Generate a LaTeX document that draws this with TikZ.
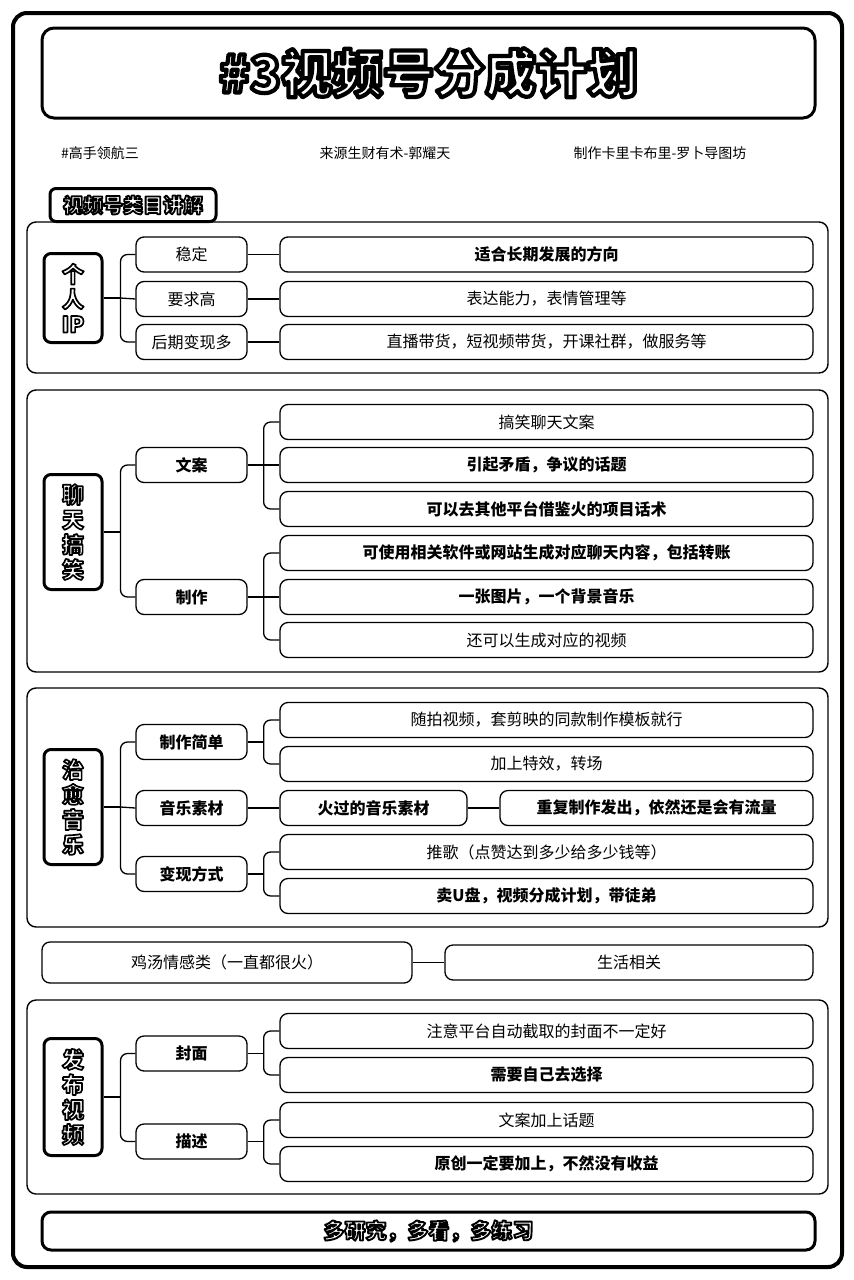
\documentclass[tikz,border=0pt]{standalone}
\usepackage{fontspec}
\setmainfont{Noto Sans CJK SC}
% outlined text: fill white, stroke black (text render mode 2)
\newcommand\outl[2][1.7]{\special{pdf:code q 2 Tr #1 w 1 j 0 G 1 g}#2\special{pdf:code Q}}
\tikzset{
  sect/.style={line width=1.4pt,rounded corners=9pt},
  midbox/.style={draw,line width=1.3pt,rounded corners=8pt,minimum width=111pt,minimum height=35pt,inner sep=0pt,font=\fontsize{16}{18}\selectfont},
  leafbox/.style={draw,line width=1.3pt,rounded corners=8pt,minimum width=533pt,minimum height=35pt,inner sep=0pt,font=\fontsize{16}{18}\selectfont},
  catbox/.style={draw,line width=3pt,rounded corners=7pt,minimum width=58pt,inner sep=0pt,align=center,font=\bfseries\fontsize{22}{25}\selectfont},
  link/.style={line width=1.3pt},
  hdr/.style={font=\fontsize{14}{16}\selectfont},
}

\begin{document}
\begin{tikzpicture}[x=1pt,y=-1pt]
\useasboundingbox (0,0) rectangle (854,1280);
%\draw[help lines] (0,0) grid[step=50] (854,1280);

\draw[line width=4pt,rounded corners=14pt] (13,13) rectangle (842,1267);

% title
\node[draw,line width=3pt,rounded corners=12pt,minimum width=773pt,minimum height=90pt] (title) at (428.5,73)
  {\bfseries\fontsize{51}{56}\selectfont\outl[4.2]{\#3视频号分成计划}};
\node[hdr] (src1) at (100,153) {\#高手领航三};
\node[hdr] (src2) at (385,153) {来源生财有术-郭耀天};
\node[hdr] (src3) at (660,153) {制作卡里卡布里-罗卜导图坊};

% section tab
\node[draw,line width=3pt,rounded corners=6pt,minimum width=166pt,minimum height=33pt,inner sep=0pt] (tab) at (133,205)
  {\bfseries\fontsize{20}{22}\selectfont\outl[1.8]{视频号类目讲解}};

%%% 个人IP
\draw[sect] (27,222) rectangle (828,373);
\node[catbox,minimum height=89pt] (ip) at (73,298) {\outl{个}\\\outl{人}\\\outl{IP}};
\node[midbox] (ipA) at (191.5,254.5) {稳定};
\node[midbox] (ipB) at (191.5,299) {要求高};
\node[midbox] (ipC) at (191.5,342) {后期变现多};
\node[leafbox,font=\bfseries\fontsize{16}{18}\selectfont] (ipA1) at (546.5,254.5) {适合长期发展的方向};
\node[leafbox] (ipB1) at (546.5,299) {表达能力，表情管理等};
\node[leafbox] (ipC1) at (546.5,342) {直播带货，短视频带货，开课社群，做服务等};
\draw[link] (ip.east) -- ++(17,0) coordinate (ipj);
\draw[link,rounded corners=7pt] (ipA.west) -| (ipj) |- (ipC.west);
\draw[link] (ipj) -- (ipB.west);
\draw[link] (ipA.east) -- (ipA1.west);
\draw[link] (ipB.east) -- (ipB1.west);
\draw[link] (ipC.east) -- (ipC1.west);

%%% 聊天搞笑
\draw[sect] (27,390) rectangle (828,672);
\node[catbox,minimum height=115pt] (lt) at (73,532) {\outl{聊}\\\outl{天}\\\outl{搞}\\\outl{笑}};
\node[midbox,font=\bfseries\fontsize{16}{18}\selectfont] (ltA) at (191.5,465) {文案};
\node[midbox,font=\bfseries\fontsize{16}{18}\selectfont] (ltB) at (191.5,597) {制作};
\node[leafbox] (ltA1) at (546.5,422) {搞笑聊天文案};
\node[leafbox,font=\bfseries\fontsize{16}{18}\selectfont] (ltA2) at (546.5,465) {引起矛盾，争议的话题};
\node[leafbox,font=\bfseries\fontsize{16}{18}\selectfont] (ltA3) at (546.5,509) {可以去其他平台借鉴火的项目话术};
\node[leafbox,font=\bfseries\fontsize{16}{18}\selectfont] (ltB1) at (546.5,553) {可使用相关软件或网站生成对应聊天内容，包括转账};
\node[leafbox,font=\bfseries\fontsize{16}{18}\selectfont] (ltB2) at (546.5,597) {一张图片，一个背景音乐};
\node[leafbox] (ltB3) at (546.5,640) {还可以生成对应的视频};
\draw[link] (lt.east) -- ++(17,0) coordinate (ltj);
\draw[link,rounded corners=7pt] (ltA.west) -| (ltj) |- (ltB.west);
\draw[link] (ltA.east) -- (ltA2.west);
\draw[link] (ltA.east) -- ++(16,0) coordinate (ltAj);
\draw[link,rounded corners=7pt] (ltA1.west) -| (ltAj) |- (ltA3.west);
\draw[link] (ltB.east) -- (ltB2.west);
\draw[link] (ltB.east) -- ++(16,0) coordinate (ltBj);
\draw[link,rounded corners=7pt] (ltB1.west) -| (ltBj) |- (ltB3.west);

%%% 治愈音乐
\draw[sect] (27,688) rectangle (828,927);
\node[catbox,minimum height=115pt] (zy) at (73,807) {\outl{治}\\\outl{愈}\\\outl{音}\\\outl{乐}};
\node[midbox,font=\bfseries\fontsize{16}{18}\selectfont] (zyA) at (191.5,742) {制作简单};
\node[midbox,font=\bfseries\fontsize{16}{18}\selectfont] (zyB) at (191.5,808) {音乐素材};
\node[midbox,font=\bfseries\fontsize{16}{18}\selectfont] (zyC) at (191.5,874) {变现方式};
\node[leafbox] (zyA1) at (546.5,720) {随拍视频，套剪映的同款制作模板就行};
\node[leafbox] (zyA2) at (546.5,764) {加上特效，转场};
\node[leafbox,minimum width=187pt,font=\bfseries\fontsize{16}{18}\selectfont] (zyB1) at (373.5,808) {火过的音乐素材};
\node[leafbox,minimum width=313pt,font=\bfseries\fontsize{16}{18}\selectfont] (zyB2) at (656.5,808) {重复制作发出，依然还是会有流量};
\node[leafbox] (zyC1) at (546.5,852) {推歌（点赞达到多少给多少钱等）};
\node[leafbox,font=\bfseries\fontsize{16}{18}\selectfont] (zyC2) at (546.5,896) {卖U盘，视频分成计划，带徒弟};
\draw[link] (zy.east) -- ++(17,0) coordinate (zyj);
\draw[link,rounded corners=7pt] (zyA.west) -| (zyj) |- (zyC.west);
\draw[link] (zyj) -- (zyB.west);
\draw[link] (zyA.east) -- ++(16,0) coordinate (zyAj);
\draw[link,rounded corners=7pt] (zyA1.west) -| (zyAj) |- (zyA2.west);
\draw[link] (zyB.east) -- (zyB1.west);
\draw[link] (zyB1.east) -- (zyB2.west);
\draw[link] (zyC.east) -- ++(16,0) coordinate (zyCj);
\draw[link,rounded corners=7pt] (zyC1.west) -| (zyCj) |- (zyC2.west);

%%% 鸡汤
\node[leafbox,minimum width=370pt,minimum height=41pt] (jt) at (227,962.5) {鸡汤情感类（一直都很火）};
\node[leafbox,minimum width=368pt] (sh) at (629,962.5) {生活相关};
\draw[link] (jt.east) -- (sh.west);

%%% 发布视频
\draw[sect] (27,1000) rectangle (828,1194);
\node[catbox,minimum height=117pt] (fb) at (73,1097) {\outl{发}\\\outl{布}\\\outl{视}\\\outl{频}};
\node[midbox,font=\bfseries\fontsize{16}{18}\selectfont] (fbA) at (191.5,1053.5) {封面};
\node[midbox,font=\bfseries\fontsize{16}{18}\selectfont] (fbB) at (191.5,1141.5) {描述};
\node[leafbox] (fbA1) at (546.5,1031) {注意平台自动截取的封面不一定好};
\node[leafbox,font=\bfseries\fontsize{16}{18}\selectfont] (fbA2) at (546.5,1075) {需要自己去选择};
\node[leafbox] (fbB1) at (546.5,1120) {文案加上话题};
\node[leafbox,font=\bfseries\fontsize{16}{18}\selectfont] (fbB2) at (546.5,1164) {原创一定要加上，不然没有收益};
\draw[link] (fb.east) -- ++(17,0) coordinate (fbj);
\draw[link,rounded corners=7pt] (fbA.west) -| (fbj) |- (fbB.west);
\draw[link] (fbA.east) -- ++(16,0) coordinate (fbAj);
\draw[link,rounded corners=7pt] (fbA1.west) -| (fbAj) |- (fbA2.west);
\draw[link] (fbB.east) -- ++(16,0) coordinate (fbBj);
\draw[link,rounded corners=7pt] (fbB1.west) -| (fbBj) |- (fbB2.west);

% bottom line
\node[draw,line width=3pt,rounded corners=9pt,minimum width=773pt,minimum height=38pt,inner sep=0pt] (tip) at (428.5,1231)
  {\bfseries\fontsize{21}{22}\selectfont\outl[1.9]{多研究，多看，多练习}};
\end{tikzpicture}
\end{document}
